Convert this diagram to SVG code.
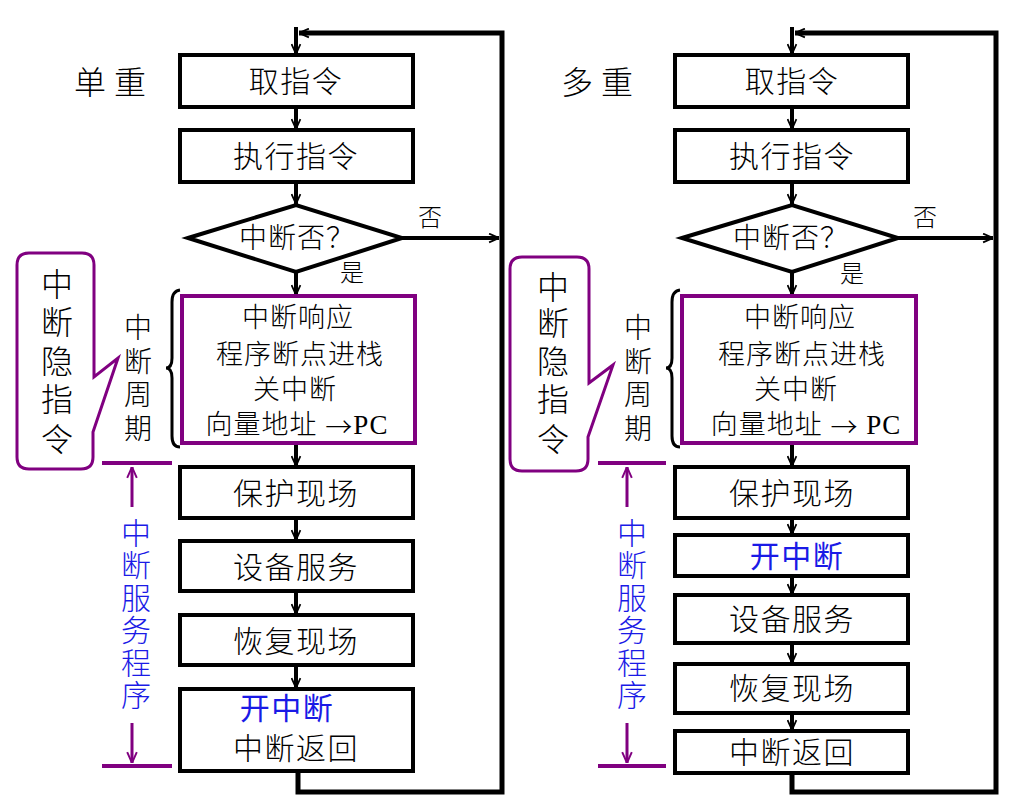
<svg xmlns="http://www.w3.org/2000/svg" width="1034" height="801" viewBox="0 0 1034 801">
<style>
.box{fill:#fff;stroke:#000;stroke-width:4}
.pbox{fill:#fff;stroke:#800080;stroke-width:4}
.dia{fill:#fff;stroke:#000;stroke-width:4}
.con{fill:none;stroke:#000;stroke-width:4}
.loop{fill:none;stroke:#000;stroke-width:5}
.pline{fill:none;stroke:#800080;stroke-width:4}
.parr{fill:none;stroke:#800080;stroke-width:3}
.callout{fill:#fff;stroke:#800080;stroke-width:3}
.brace{fill:none;stroke:#000;stroke-width:3}
text{font-family:"Liberation Serif","Noto Sans CJK SC",serif;font-weight:300;fill:#000;dominant-baseline:central;text-anchor:middle}
.t30{font-size:30px;letter-spacing:1.5px}
.t27{font-size:27px;letter-spacing:1px}
.t24{font-size:24px}
.blue{fill:#1a1ae6;font-weight:400}
.arw{font-family:"Noto Sans CJK SC",sans-serif}
</style>
<defs>
<marker id="ah" viewBox="0 0 10 10" refX="10" refY="5" markerWidth="11" markerHeight="11" markerUnits="userSpaceOnUse" orient="auto">
<path d="M1,1 L10,5 L1,9" fill="none" stroke="#000" stroke-width="1.6"/>
</marker>
<marker id="ahp" viewBox="0 0 10 10" refX="10" refY="5" markerWidth="12" markerHeight="12" markerUnits="userSpaceOnUse" orient="auto">
<path d="M1,1 L10,5 L1,9" fill="none" stroke="#800080" stroke-width="1.6"/>
</marker>
</defs>

<g id="connectors">
<line class="con" x1="296" y1="27" x2="296" y2="54" marker-end="url(#ah)"/>
<line class="con" x1="296" y1="107" x2="296" y2="129" marker-end="url(#ah)"/>
<line class="con" x1="296" y1="182" x2="296" y2="204" marker-end="url(#ah)"/>
<line class="con" x1="296" y1="272" x2="296" y2="295" marker-end="url(#ah)"/>
<line class="con" x1="296" y1="443" x2="296" y2="466" marker-end="url(#ah)"/>
<line class="con" x1="296" y1="518" x2="296" y2="540" marker-end="url(#ah)"/>
<line class="con" x1="296" y1="591" x2="296" y2="614" marker-end="url(#ah)"/>
<line class="con" x1="296" y1="665" x2="296" y2="688" marker-end="url(#ah)"/>
<line class="con" x1="402" y1="238" x2="499" y2="238" marker-end="url(#ah)"/>
<polyline class="loop" points="298,773 298,792 502,792 502,33 299,33" marker-end="url(#ah)"/>
<line class="con" x1="792" y1="27" x2="792" y2="54" marker-end="url(#ah)"/>
<line class="con" x1="792" y1="107" x2="792" y2="129" marker-end="url(#ah)"/>
<line class="con" x1="792" y1="182" x2="792" y2="204" marker-end="url(#ah)"/>
<line class="con" x1="792" y1="272" x2="792" y2="295" marker-end="url(#ah)"/>
<line class="con" x1="792" y1="443" x2="792" y2="466" marker-end="url(#ah)"/>
<line class="con" x1="792" y1="518" x2="792" y2="534" marker-end="url(#ah)"/>
<line class="con" x1="792" y1="576" x2="792" y2="594" marker-end="url(#ah)"/>
<line class="con" x1="792" y1="643" x2="792" y2="663" marker-end="url(#ah)"/>
<line class="con" x1="792" y1="713" x2="792" y2="730" marker-end="url(#ah)"/>
<line class="con" x1="898" y1="238" x2="993" y2="238" marker-end="url(#ah)"/>
<polyline class="loop" points="792,773 792,792 996,792 996,33 795,33" marker-end="url(#ah)"/>
</g>

<text id="title-left" x="114" y="83" style="font-size:32px;letter-spacing:8px">单重</text>
<g id="L-fetch"><rect class="box" x="180" y="55" width="233" height="52"/><text class="t30" x="296" y="81">取指令</text></g>
<g id="L-exec"><rect class="box" x="180" y="130" width="233" height="52"/><text class="t30" x="296" y="156">执行指令</text></g>
<g id="L-dec"><polygon class="dia" points="188,238 296,205 402,238 296,272"/><text x="297" y="238" style="font-size:28px;letter-spacing:1px">中断否？</text></g>
<text class="t24" x="430" y="218">否</text>
<text class="t24" x="352" y="273">是</text>
<g id="L-cycle"><rect class="pbox" x="182" y="296" width="233" height="147"/>
<text class="t27" x="298" y="318">中断响应</text>
<text class="t27" x="300" y="355">程序断点进栈</text>
<text class="t27" x="295" y="390">关中断</text>
<text class="t27" x="297" y="425">向量地址 <tspan class="arw">→</tspan>PC</text></g>
<g id="L-save"><rect class="box" x="180" y="467" width="233" height="51"/><text class="t30" x="296" y="493">保护现场</text></g>
<g id="L-serve"><rect class="box" x="180" y="541" width="233" height="50"/><text class="t30" x="296" y="567">设备服务</text></g>
<g id="L-restore"><rect class="box" x="180" y="615" width="233" height="50"/><text class="t30" x="296" y="641">恢复现场</text></g>
<g id="L-return"><rect class="box" x="180" y="689" width="233" height="82"/>
<text class="t30 blue" x="287" y="708">开中断</text>
<text class="t30" x="296" y="748">中断返回</text></g>
<g id="L-brace"><path class="brace" d="M180,290 Q172,291 172,302 L172,358 Q172,368 166,368 Q172,368 172,378 L172,436 Q172,447 180,447"/>
<text x="138" y="328" style="font-size:28px"><tspan x="138" y="328">中</tspan><tspan x="138" y="362">断</tspan><tspan x="138" y="395">周</tspan><tspan x="138" y="429">期</tspan></text></g>
<g id="L-callout"><path class="callout" d="M29,253 H82 Q94,253 94,265 V377 L118,358 L93,432 V457 Q93,469 81,469 H29 Q17,469 17,457 V265 Q17,253 29,253 Z"/>
<text x="57" y="285" style="font-size:32px"><tspan x="57" y="285">中</tspan><tspan x="57" y="323">断</tspan><tspan x="57" y="362">隐</tspan><tspan x="57" y="400">指</tspan><tspan x="57" y="440">令</tspan></text></g>
<g id="L-isr">
<line class="pline" x1="102" y1="463" x2="172" y2="463"/>
<line class="pline" x1="102" y1="766" x2="172" y2="766"/>
<line class="parr" x1="132" y1="507" x2="132" y2="467" marker-end="url(#ahp)"/>
<line class="parr" x1="132" y1="723" x2="132" y2="763" marker-end="url(#ahp)"/>
<text class="blue" x="136" y="533" style="font-size:30px;font-weight:300"><tspan x="136" y="533">中</tspan><tspan x="136" y="565">断</tspan><tspan x="136" y="598">服</tspan><tspan x="136" y="630">务</tspan><tspan x="136" y="663">程</tspan><tspan x="136" y="695">序</tspan></text>
</g>

<text id="title-right" x="601" y="83" style="font-size:32px;letter-spacing:8px">多重</text>
<g id="R-fetch"><rect class="box" x="675" y="55" width="233" height="52"/><text class="t30" x="792" y="81">取指令</text></g>
<g id="R-exec"><rect class="box" x="675" y="130" width="233" height="52"/><text class="t30" x="792" y="156">执行指令</text></g>
<g id="R-dec"><polygon class="dia" points="682,238 792,205 898,238 792,272"/><text x="791" y="238" style="font-size:28px;letter-spacing:1px">中断否？</text></g>
<text class="t24" x="925" y="218">否</text>
<text class="t24" x="852" y="274">是</text>
<g id="R-cycle"><rect class="pbox" x="682" y="296" width="234" height="147"/>
<text class="t27" x="800" y="318">中断响应</text>
<text class="t27" x="802" y="355">程序断点进栈</text>
<text class="t27" x="796" y="390">关中断</text>
<text class="t27" x="806" y="425">向量地址 <tspan class="arw">→</tspan> PC</text></g>
<g id="R-save"><rect class="box" x="675" y="467" width="233" height="51"/><text class="t30" x="792" y="493">保护现场</text></g>
<g id="R-ei"><rect class="box" x="675" y="535" width="233" height="41"/><text class="t30 blue" x="797" y="556">开中断</text></g>
<g id="R-serve"><rect class="box" x="675" y="595" width="233" height="48"/><text class="t30" x="792" y="619">设备服务</text></g>
<g id="R-restore"><rect class="box" x="675" y="664" width="233" height="49"/><text class="t30" x="792" y="688">恢复现场</text></g>
<g id="R-return"><rect class="box" x="675" y="731" width="233" height="42"/><text class="t30" x="792" y="752">中断返回</text></g>
<g id="R-brace"><path class="brace" d="M680,290 Q672,291 672,302 L672,358 Q672,368 666,368 Q672,368 672,378 L672,436 Q672,447 680,447"/>
<text x="638" y="328" style="font-size:28px"><tspan x="638" y="328">中</tspan><tspan x="638" y="362">断</tspan><tspan x="638" y="395">周</tspan><tspan x="638" y="429">期</tspan></text></g>
<g id="R-callout"><path class="callout" d="M522,257 H577 Q589,257 589,269 V383 L613,365 L588,437 V459 Q588,471 576,471 H522 Q510,471 510,459 V269 Q510,257 522,257 Z"/>
<text x="553" y="288" style="font-size:32px"><tspan x="553" y="288">中</tspan><tspan x="553" y="324">断</tspan><tspan x="553" y="362">隐</tspan><tspan x="553" y="400">指</tspan><tspan x="553" y="440">令</tspan></text></g>
<g id="R-isr">
<line class="pline" x1="598" y1="463" x2="666" y2="463"/>
<line class="pline" x1="598" y1="766" x2="666" y2="766"/>
<line class="parr" x1="627" y1="507" x2="627" y2="467" marker-end="url(#ahp)"/>
<line class="parr" x1="627" y1="723" x2="627" y2="763" marker-end="url(#ahp)"/>
<text class="blue" x="632" y="533" style="font-size:30px;font-weight:300"><tspan x="632" y="533">中</tspan><tspan x="632" y="565">断</tspan><tspan x="632" y="598">服</tspan><tspan x="632" y="630">务</tspan><tspan x="632" y="663">程</tspan><tspan x="632" y="695">序</tspan></text>
</g>
</svg>
